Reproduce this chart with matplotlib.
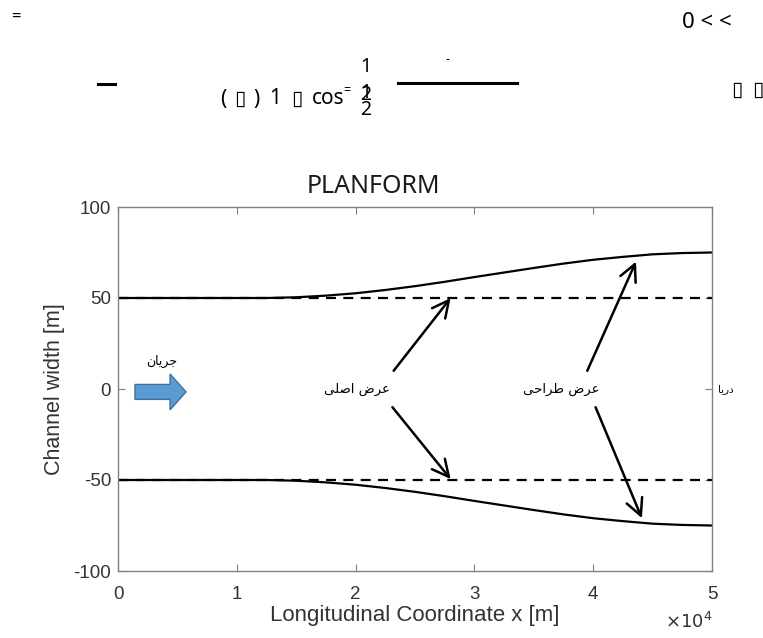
import matplotlib
matplotlib.use("Agg")
import matplotlib.pyplot as plt
from matplotlib.lines import Line2D
from matplotlib.patches import FancyArrow

W, H = 763, 638

# channel planform, x in units of 1e4 m
x_pos = [0, 0.5, 1.0, 1.25, 1.5, 1.75, 2.0, 2.25, 2.5, 2.75, 3.0,
         3.25, 3.5, 3.75, 4.0, 4.25, 4.5, 4.75, 5.0]
design_upper = [50, 50, 50, 50.0, 50.4, 51.3, 52.6, 54.4, 56.5, 58.9, 61.5,
                64.0, 66.5, 68.9, 71.0, 72.6, 74.0, 74.7, 75]
design_lower = [-50, -50, -50, -50.0, -50.4, -51.3, -52.6, -54.4, -56.5, -58.9, -61.5,
                -64.0, -66.5, -68.9, -71.0, -72.6, -74.0, -74.7, -75]
orig_x = [0, 5]
orig_upper = [50, 50]
orig_lower = [-50, -50]

x_ticks = [0, 1, 2, 3, 4, 5]
y_ticks = [-100, -50, 0, 50, 100]
y_ticklabels = ['-100', '-50', '0', '50', '100']

# persian labels, presentation forms in visual order
lbl_orig = '\uFEF0\uFEE0\uFEBB\uFE8D \uFEBD\uFEAE\uFECB'        # عرض اصلی
lbl_design = '\uFEF0\uFEA3\uFE8D\uFEAE\uFEC3 \uFEBD\uFEAE\uFECB'  # عرض طراحی
lbl_flow = '\uFEE5\uFE8E\uFEF3\uFEAE\uFE9F'                      # جریان
lbl_sea = '\uFE8E\uFEF3\uFEAD\uFEA9'                             # دریا


def fx(px):
    return px / W


def fy(py):
    return 1 - py / H


fig = plt.figure(figsize=(W / 100, H / 100), dpi=100)
ax = fig.add_axes([fx(118), fy(571), fx(712) - fx(118), fy(207) - fy(571)])

gray = '#808080'
txt = '#333333'
sans = ['Liberation Sans', 'DejaVu Sans']
noto = ['Noto Sans', 'DejaVu Sans']

ax.plot(orig_x, orig_upper, color='black', lw=1.6, dashes=(4.5, 3.3))
ax.plot(orig_x, orig_lower, color='black', lw=1.6, dashes=(4.5, 3.3))
ax.plot(x_pos, design_upper, color='black', lw=1.6)
ax.plot(x_pos, design_lower, color='black', lw=1.6)

ax.set_xlim(0, 5)
ax.set_ylim(-100, 100)
ax.set_xticks(x_ticks)
ax.set_xticklabels([str(t) for t in x_ticks], family=sans, fontsize=13.5, color=txt)
ax.set_yticks(y_ticks)
ax.set_yticklabels(y_ticklabels, family=sans, fontsize=13.5, color=txt)
ax.tick_params(direction='in', length=5, width=0.8, color=gray, top=True, right=True)
ax.tick_params(axis='x', pad=11)
ax.tick_params(axis='y', pad=5)
for s in ax.spines.values():
    s.set_color(gray)
    s.set_linewidth(1.0)

ax.set_xlabel('Longitudinal Coordinate x [m]', family=sans, fontsize=16, color=txt, labelpad=1)
ax.set_ylabel('Channel width [m]', family=sans, fontsize=15.5, color=txt, labelpad=6)
fig.text(fx(712), fy(622), r'$\times10^4$', ha='right', va='center', fontsize=13, color=txt)
fig.text(fx(373), fy(186), 'PLANFORM', ha='center', va='center', family=noto, fontsize=18, color='#1a1a1a')

# annotations
arr = dict(arrowstyle='->,head_length=0.6,head_width=0.3', lw=1.8, color='black',
           shrinkA=0, shrinkB=0, mutation_scale=20)
ax.annotate('', xy=(2.8, 50), xytext=(2.32, 10), arrowprops=arr)
ax.annotate('', xy=(2.8, -49.5), xytext=(2.31, -10), arrowprops=arr)
ax.annotate('', xy=(4.36, 70), xytext=(3.95, 10), arrowprops=arr)
ax.annotate('', xy=(4.41, -71), xytext=(4.02, -10), arrowprops=arr)
ax.text(2.01, 0, lbl_orig, ha='center', va='center', family='DejaVu Sans', fontsize=9.5)
ax.text(3.73, 0, lbl_design, ha='center', va='center', family='DejaVu Sans', fontsize=9.5)
ax.text(0.37, 15, lbl_flow, ha='center', va='center', family='DejaVu Sans', fontsize=9)
ax.text(5.05, 0, lbl_sea, ha='left', va='center', family='DejaVu Sans', fontsize=7.5,
        clip_on=False)
ax.add_patch(FancyArrow(0.143, -1.6, 0.43, 0, width=8.2, head_width=19.7,
                        head_length=0.135, length_includes_head=True,
                        facecolor='#5b9bd5', edgecolor='#41719c', lw=1.0))

# broken equation fragments above the plot
fig.text(fx(16), fy(17), '=', ha='center', va='center', family=noto, fontsize=12)
fig.text(fx(682), fy(22), '0 < <', ha='left', va='center', family=noto, fontsize=16)
fig.text(fx(223), fy(99), '(', ha='center', va='center', family=noto, fontsize=15)
fig.text(fx(240), fy(99), '\u25af', ha='center', va='center', family=noto, fontsize=15)
fig.text(fx(257), fy(99), ')', ha='center', va='center', family=noto, fontsize=15)
fig.text(fx(275), fy(99), '1', ha='center', va='center', family=noto, fontsize=15)
fig.text(fx(297), fy(99), '\u25af', ha='center', va='center', family=noto, fontsize=15)
fig.text(fx(312), fy(99), 'cos', ha='left', va='center', family=noto, fontsize=15)
fig.text(fx(347), fy(91), '=', ha='center', va='center', family=noto, fontsize=9)
fig.text(fx(366), fy(67), '1', ha='center', va='center', family=noto, fontsize=14)
fig.text(fx(366), fy(93), '1', ha='center', va='center', family=noto, fontsize=14)
fig.text(fx(366), fy(95), '2', ha='center', va='center', family=noto, fontsize=14)
fig.text(fx(366), fy(110), '2', ha='center', va='center', family=noto, fontsize=14)
fig.text(fx(447), fy(60), '-', ha='center', va='center', family=noto, fontsize=9)
fig.text(fx(737), fy(90), '\u25af', ha='center', va='center', family=noto, fontsize=15)
fig.text(fx(758), fy(90), '\u25af', ha='center', va='center', family=noto, fontsize=15)
fig.add_artist(Line2D([fx(98), fx(115)], [fy(84), fy(84)], color='black', lw=2.2))
fig.add_artist(Line2D([fx(398), fx(517)], [fy(83), fy(83)], color='black', lw=2.2))

fig.savefig('out.png', dpi=100)
